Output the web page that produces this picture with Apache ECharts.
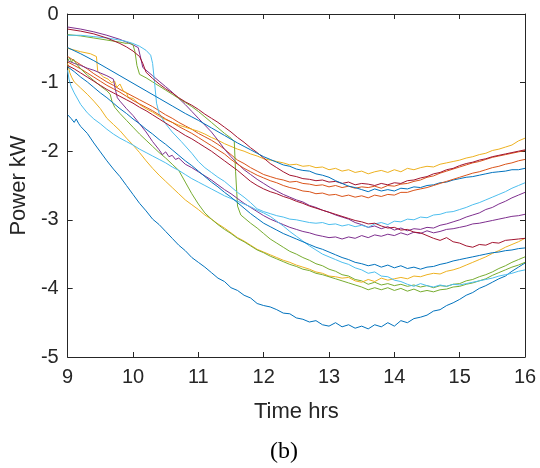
<!DOCTYPE html>
<html><head><meta charset="utf-8">
<script src="https://cdn.jsdelivr.net/npm/echarts@6/dist/echarts.min.js"></script>
<style>html,body{margin:0;padding:0;background:#fff}#c{width:540px;height:468px}</style>
</head><body><div id="c"></div>
<script>
const xTicks = [9,10,11,12,13,14,15,16];
const yTicks = [-5,-4,-3,-2,-1,0];
const xTitle = 'Time hrs';
const yTitle = 'Power kW';
const caption = '(b)';

const blueLow = [[9,-1.47],[9.05,-1.52],[9.1,-1.58],[9.13,-1.53],[9.17,-1.6],[9.2,-1.64],[9.3,-1.74],[9.4,-1.88],[9.5,-2.01],[9.6,-2.14],[9.7,-2.26],[9.8,-2.37],[9.9,-2.5],[10,-2.63],[10.1,-2.76],[10.2,-2.87],[10.3,-2.99],[10.4,-3.07],[10.5,-3.17],[10.6,-3.27],[10.7,-3.37],[10.8,-3.45],[10.9,-3.55],[11,-3.62],[11.1,-3.69],[11.2,-3.77],[11.3,-3.85],[11.4,-3.9],[11.5,-3.99],[11.6,-4.03],[11.7,-4.1],[11.8,-4.14],[11.9,-4.22],[12,-4.25],[12.1,-4.27],[12.2,-4.31],[12.3,-4.36],[12.4,-4.37],[12.5,-4.43],[12.6,-4.45],[12.7,-4.49],[12.8,-4.47],[12.9,-4.53],[13,-4.55],[13.1,-4.5],[13.2,-4.56],[13.3,-4.53],[13.4,-4.58],[13.5,-4.55],[13.6,-4.59],[13.7,-4.53],[13.8,-4.56],[13.9,-4.5],[14,-4.55],[14.1,-4.47],[14.2,-4.5],[14.3,-4.44],[14.4,-4.42],[14.5,-4.39],[14.6,-4.33],[14.7,-4.31],[14.8,-4.25],[14.9,-4.21],[15,-4.16],[15.1,-4.1],[15.2,-4.06],[15.3,-4],[15.4,-3.96],[15.5,-3.91],[15.6,-3.86],[15.7,-3.82],[15.8,-3.75],[15.9,-3.69],[16,-3.63]];
const redBand = [[9,-0.62],[9.1,-0.68],[9.2,-0.74],[9.3,-0.8],[9.4,-0.87],[9.5,-0.93],[9.6,-0.99],[9.7,-1.04],[9.8,-1.1],[9.9,-1.15],[10,-1.2],[10.1,-1.25],[10.2,-1.3],[10.3,-1.35],[10.4,-1.41],[10.5,-1.47],[10.6,-1.52],[10.7,-1.58],[10.8,-1.63],[10.9,-1.68],[11,-1.74],[11.1,-1.79],[11.2,-1.84],[11.3,-1.9],[11.4,-1.97],[11.5,-2.05],[11.6,-2.13],[11.7,-2.18],[11.8,-2.24],[11.9,-2.29],[12,-2.34],[12.1,-2.37],[12.2,-2.4],[12.3,-2.42],[12.4,-2.45],[12.5,-2.44],[12.6,-2.47],[12.7,-2.48],[12.8,-2.5],[12.9,-2.49],[13,-2.52],[13.1,-2.5],[13.2,-2.53],[13.3,-2.51],[13.4,-2.54],[13.5,-2.52],[13.6,-2.53],[13.7,-2.51],[13.8,-2.54],[13.9,-2.5],[14,-2.51],[14.1,-2.48],[14.2,-2.47],[14.3,-2.44],[14.4,-2.42],[14.5,-2.38],[14.6,-2.36],[14.7,-2.32],[14.8,-2.29],[14.9,-2.26],[15,-2.23],[15.1,-2.2],[15.2,-2.17],[15.3,-2.15],[15.4,-2.12],[15.5,-2.09],[15.6,-2.07],[15.7,-2.05],[15.8,-2.03],[15.9,-2.01],[16,-1.99]];
const yellowTop = [[9,-0.5],[9.2,-0.55],[9.35,-0.58],[9.44,-0.62],[9.46,-0.84],[9.55,-0.92],[9.62,-0.95],[9.67,-1],[9.72,-0.98],[9.75,-1.07],[9.8,-1.02],[9.85,-1.12],[9.9,-1.15],[9.93,-1.22],[10,-1.23],[10.1,-1.32],[10.2,-1.38],[10.3,-1.43],[10.4,-1.49],[10.5,-1.54],[10.6,-1.58],[10.7,-1.62],[10.8,-1.65],[10.9,-1.68],[11,-1.71],[11.1,-1.75],[11.2,-1.8],[11.3,-1.84],[11.4,-1.89],[11.5,-1.93],[11.6,-1.97],[11.7,-2],[11.8,-2.04],[11.9,-2.07],[12,-2.11],[12.1,-2.13],[12.2,-2.15],[12.3,-2.17],[12.4,-2.2],[12.5,-2.19],[12.6,-2.22],[12.7,-2.21],[12.8,-2.24],[12.9,-2.23],[13,-2.27],[13.1,-2.25],[13.2,-2.29],[13.3,-2.27],[13.4,-2.31],[13.5,-2.29],[13.6,-2.33],[13.7,-2.3],[13.8,-2.28],[13.9,-2.31],[14,-2.27],[14.1,-2.3],[14.2,-2.25],[14.3,-2.27],[14.4,-2.24],[14.5,-2.22],[14.6,-2.23],[14.7,-2.19],[14.8,-2.17],[14.9,-2.15],[15,-2.13],[15.1,-2.1],[15.2,-2.08],[15.3,-2.05],[15.4,-2.03],[15.5,-1.99],[15.6,-1.97],[15.7,-1.94],[15.8,-1.91],[15.9,-1.85],[16,-1.81]];
const purpleTop = [[9,-0.19],[9.2,-0.22],[9.4,-0.26],[9.6,-0.31],[9.8,-0.37],[9.9,-0.41],[10,-0.45],[10.08,-0.49],[10.12,-0.65],[10.15,-0.78],[10.3,-0.9],[10.4,-0.98],[10.5,-1.06],[10.6,-1.14],[10.7,-1.23],[10.8,-1.32],[10.9,-1.42],[11,-1.52],[11.1,-1.62],[11.2,-1.72],[11.3,-1.84],[11.4,-1.97],[11.5,-2.08],[11.6,-2.18],[11.7,-2.27],[11.8,-2.34],[11.9,-2.41],[12,-2.47],[12.1,-2.53],[12.2,-2.58],[12.3,-2.63],[12.4,-2.67],[12.5,-2.71],[12.6,-2.74],[12.7,-2.79],[12.8,-2.82],[12.9,-2.86],[13,-2.89],[13.1,-2.93],[13.2,-2.96],[13.3,-2.99],[13.4,-3.04],[13.5,-3.07],[13.6,-3.11],[13.7,-3.09],[13.8,-3.13],[13.9,-3.1],[14,-3.15],[14.1,-3.12],[14.2,-3.16],[14.3,-3.13],[14.4,-3.14],[14.5,-3.11],[14.6,-3.12],[14.7,-3.08],[14.8,-3.06],[14.9,-3.03],[15,-3],[15.1,-2.96],[15.2,-2.93],[15.3,-2.9],[15.4,-2.85],[15.5,-2.82],[15.6,-2.77],[15.7,-2.73],[15.8,-2.68],[15.9,-2.64],[16,-2.6]];
const greenStep = [[9,-0.3],[9.2,-0.32],[9.4,-0.35],[9.6,-0.38],[9.8,-0.41],[9.9,-0.43],[9.95,-0.42],[10,-0.45],[10.03,-0.55],[10.06,-0.75],[10.1,-0.88],[10.2,-0.93],[10.3,-0.99],[10.4,-1.05],[10.5,-1.11],[10.6,-1.17],[10.7,-1.23],[10.8,-1.29],[10.9,-1.35],[11,-1.42],[11.1,-1.5],[11.2,-1.58],[11.3,-1.66],[11.4,-1.74],[11.5,-1.81],[11.55,-1.86],[11.57,-2.3],[11.6,-2.8],[11.65,-2.93],[11.7,-2.97],[11.8,-3.05],[11.9,-3.12],[12,-3.2],[12.1,-3.28],[12.2,-3.34],[12.3,-3.4],[12.4,-3.46],[12.5,-3.5],[12.6,-3.55],[12.7,-3.59],[12.8,-3.64],[12.9,-3.67],[13,-3.72],[13.1,-3.75],[13.2,-3.8],[13.3,-3.82],[13.4,-3.87],[13.5,-3.89],[13.6,-3.94],[13.7,-3.91],[13.8,-3.95],[13.9,-3.93],[14,-3.96],[14.1,-3.94],[14.2,-3.97],[14.3,-3.95],[14.4,-3.98],[14.5,-3.96],[14.6,-3.99],[14.7,-3.96],[14.8,-3.97],[14.9,-3.94],[15,-3.93],[15.1,-3.89],[15.2,-3.87],[15.3,-3.83],[15.4,-3.8],[15.5,-3.76],[15.6,-3.71],[15.7,-3.67],[15.8,-3.62],[15.9,-3.58],[16,-3.54]];
const lightBlueStep = [[9,-0.31],[9.2,-0.31],[9.4,-0.33],[9.6,-0.35],[9.8,-0.38],[9.9,-0.4],[10,-0.43],[10.1,-0.47],[10.2,-0.53],[10.27,-0.6],[10.3,-0.72],[10.33,-1],[10.36,-1.3],[10.4,-1.45],[10.5,-1.6],[10.6,-1.72],[10.74,-1.86],[10.9,-2.03],[11,-2.15],[11.1,-2.24],[11.2,-2.31],[11.3,-2.38],[11.4,-2.44],[11.5,-2.52],[11.6,-2.6],[11.7,-2.67],[11.8,-2.75],[11.9,-2.84],[12,-2.88],[12.1,-2.91],[12.2,-2.94],[12.3,-2.96],[12.4,-2.99],[12.5,-3],[12.6,-3.02],[12.7,-3.04],[12.8,-3.05],[12.9,-3.04],[13,-3.07],[13.1,-3.06],[13.2,-3.09],[13.3,-3.07],[13.4,-3.1],[13.5,-3.08],[13.6,-3.11],[13.7,-3.06],[13.8,-3.04],[13.9,-3.07],[14,-3.02],[14.1,-3.03],[14.2,-2.99],[14.3,-3],[14.4,-2.96],[14.5,-2.97],[14.6,-2.93],[14.7,-2.92],[14.8,-2.89],[14.9,-2.88],[15,-2.85],[15.1,-2.82],[15.2,-2.78],[15.3,-2.75],[15.4,-2.71],[15.5,-2.67],[15.6,-2.63],[15.7,-2.59],[15.8,-2.54],[15.9,-2.5],[16,-2.46]];
const redTop = [[9,-0.22],[9.2,-0.25],[9.4,-0.29],[9.6,-0.35],[9.8,-0.43],[9.9,-0.48],[10,-0.54],[10.1,-0.62],[10.15,-0.72],[10.2,-0.85],[10.3,-0.94],[10.4,-1.02],[10.5,-1.09],[10.6,-1.15],[10.7,-1.22],[10.8,-1.28],[10.9,-1.33],[11,-1.39],[11.1,-1.46],[11.2,-1.52],[11.3,-1.58],[11.4,-1.65],[11.5,-1.72],[11.6,-1.8],[11.7,-1.87],[11.8,-1.95],[11.9,-2.02],[12,-2.1],[12.1,-2.18],[12.2,-2.24],[12.3,-2.3],[12.4,-2.35],[12.5,-2.37],[12.6,-2.4],[12.7,-2.41],[12.8,-2.43],[12.9,-2.42],[13,-2.45],[13.1,-2.44],[13.2,-2.47],[13.3,-2.45],[13.4,-2.49],[13.5,-2.47],[13.6,-2.48],[13.7,-2.5],[13.8,-2.47],[13.9,-2.49],[14,-2.46],[14.1,-2.47],[14.2,-2.43],[14.3,-2.42],[14.4,-2.39],[14.5,-2.37],[14.6,-2.33],[14.7,-2.31],[14.8,-2.27],[14.9,-2.25],[15,-2.21],[15.1,-2.18],[15.2,-2.16],[15.3,-2.13],[15.4,-2.11],[15.5,-2.08],[15.6,-2.06],[15.7,-2.04],[15.8,-2.02],[15.9,-2],[16,-1.98]];
const blueMid = [[9,-0.49],[9.2,-0.58],[9.4,-0.68],[9.6,-0.79],[9.8,-0.9],[10,-1.01],[10.2,-1.12],[10.4,-1.23],[10.6,-1.34],[10.8,-1.45],[10.9,-1.5],[11,-1.55],[11.2,-1.66],[11.4,-1.77],[11.6,-1.88],[11.7,-1.93],[11.8,-1.98],[11.9,-2.03],[12,-2.08],[12.1,-2.12],[12.2,-2.16],[12.3,-2.2],[12.4,-2.22],[12.5,-2.26],[12.6,-2.28],[12.7,-2.29],[12.8,-2.33],[12.9,-2.35],[13,-2.38],[13.1,-2.43],[13.2,-2.47],[13.3,-2.51],[13.4,-2.53],[13.5,-2.56],[13.6,-2.59],[13.7,-2.55],[13.8,-2.58],[13.9,-2.56],[14,-2.58],[14.1,-2.54],[14.2,-2.55],[14.3,-2.52],[14.4,-2.53],[14.5,-2.5],[14.6,-2.49],[14.7,-2.46],[14.8,-2.45],[14.9,-2.42],[15,-2.4],[15.1,-2.38],[15.2,-2.37],[15.3,-2.35],[15.4,-2.33],[15.5,-2.31],[15.6,-2.3],[15.7,-2.29],[15.8,-2.27],[15.9,-2.27],[16,-2.25]];
const orangeBand = [[9,-0.7],[9.1,-0.75],[9.2,-0.8],[9.3,-0.86],[9.4,-0.92],[9.5,-0.98],[9.6,-1.04],[9.7,-1.09],[9.8,-1.14],[9.9,-1.2],[10,-1.26],[10.1,-1.31],[10.2,-1.36],[10.3,-1.41],[10.4,-1.47],[10.5,-1.53],[10.6,-1.58],[10.7,-1.64],[10.8,-1.69],[10.9,-1.74],[11,-1.8],[11.1,-1.86],[11.2,-1.92],[11.3,-1.98],[11.4,-2.04],[11.5,-2.12],[11.6,-2.19],[11.7,-2.25],[11.8,-2.3],[11.9,-2.35],[12,-2.39],[12.1,-2.43],[12.2,-2.46],[12.3,-2.5],[12.4,-2.53],[12.5,-2.55],[12.6,-2.58],[12.7,-2.59],[12.8,-2.62],[12.9,-2.61],[13,-2.64],[13.1,-2.63],[13.2,-2.66],[13.3,-2.64],[13.4,-2.67],[13.5,-2.65],[13.6,-2.68],[13.7,-2.64],[13.8,-2.66],[13.9,-2.63],[14,-2.64],[14.1,-2.6],[14.2,-2.6],[14.3,-2.57],[14.4,-2.55],[14.5,-2.53],[14.6,-2.5],[14.7,-2.47],[14.8,-2.44],[14.9,-2.41],[15,-2.38],[15.1,-2.35],[15.2,-2.32],[15.3,-2.3],[15.4,-2.27],[15.5,-2.24],[15.6,-2.22],[15.7,-2.19],[15.8,-2.17],[15.9,-2.14],[16,-2.12]];
const yellowLow = [[9,-0.72],[9.03,-0.85],[9.06,-0.92],[9.1,-0.99],[9.2,-1.08],[9.3,-1.17],[9.4,-1.27],[9.5,-1.38],[9.6,-1.52],[9.7,-1.61],[9.8,-1.7],[9.9,-1.81],[10,-1.91],[10.1,-2.02],[10.2,-2.14],[10.3,-2.25],[10.4,-2.35],[10.5,-2.44],[10.6,-2.53],[10.7,-2.62],[10.8,-2.71],[10.9,-2.78],[11,-2.85],[11.1,-2.93],[11.2,-2.99],[11.3,-3.06],[11.4,-3.12],[11.5,-3.19],[11.6,-3.26],[11.7,-3.31],[11.8,-3.37],[11.9,-3.43],[12,-3.47],[12.1,-3.51],[12.2,-3.55],[12.3,-3.59],[12.4,-3.62],[12.5,-3.66],[12.6,-3.69],[12.7,-3.72],[12.8,-3.76],[12.9,-3.78],[13,-3.82],[13.1,-3.83],[13.2,-3.85],[13.3,-3.84],[13.4,-3.89],[13.5,-3.91],[13.6,-3.87],[13.7,-3.9],[13.8,-3.85],[13.9,-3.88],[14,-3.86],[14.1,-3.84],[14.2,-3.86],[14.3,-3.82],[14.4,-3.83],[14.5,-3.8],[14.6,-3.78],[14.7,-3.79],[14.8,-3.75],[14.9,-3.73],[15,-3.7],[15.1,-3.66],[15.2,-3.62],[15.3,-3.58],[15.4,-3.54],[15.5,-3.49],[15.6,-3.45],[15.7,-3.4],[15.8,-3.36],[15.9,-3.32],[16,-3.27]];
const purpleLow = [[9,-0.68],[9.1,-0.72],[9.2,-0.75],[9.3,-0.79],[9.4,-0.82],[9.5,-0.86],[9.6,-0.9],[9.7,-0.95],[9.73,-1.1],[9.76,-1.22],[9.8,-1.27],[9.9,-1.38],[10,-1.48],[10.1,-1.6],[10.2,-1.72],[10.3,-1.86],[10.4,-1.98],[10.45,-2.05],[10.5,-2.01],[10.55,-2.08],[10.6,-2.06],[10.65,-2.12],[10.7,-2.1],[10.8,-2.19],[10.9,-2.24],[11,-2.3],[11.1,-2.36],[11.2,-2.42],[11.3,-2.49],[11.4,-2.56],[11.5,-2.62],[11.6,-2.69],[11.7,-2.76],[11.8,-2.82],[11.9,-2.88],[12,-2.94],[12.1,-2.99],[12.2,-3.03],[12.3,-3.07],[12.4,-3.11],[12.5,-3.14],[12.6,-3.17],[12.7,-3.19],[12.8,-3.22],[12.9,-3.24],[13,-3.26],[13.1,-3.25],[13.2,-3.28],[13.3,-3.25],[13.4,-3.27],[13.5,-3.23],[13.6,-3.26],[13.7,-3.22],[13.8,-3.24],[13.9,-3.21],[14,-3.23],[14.1,-3.19],[14.2,-3.22],[14.3,-3.18],[14.4,-3.2],[14.5,-3.16],[14.6,-3.19],[14.7,-3.17],[14.8,-3.14],[14.9,-3.13],[15,-3.11],[15.1,-3.09],[15.2,-3.06],[15.3,-3.05],[15.4,-3.03],[15.5,-3.01],[15.6,-2.99],[15.7,-2.97],[15.8,-2.95],[15.9,-2.94],[16,-2.92]];
const greenLow = [[9,-0.69],[9.03,-0.64],[9.06,-0.7],[9.09,-0.66],[9.12,-0.71],[9.2,-0.8],[9.3,-0.89],[9.4,-0.97],[9.5,-1.05],[9.6,-1.12],[9.65,-1.17],[9.68,-1.28],[9.72,-1.36],[9.8,-1.45],[9.9,-1.55],[10,-1.65],[10.1,-1.75],[10.2,-1.84],[10.3,-1.93],[10.4,-2.02],[10.5,-2.1],[10.6,-2.19],[10.7,-2.28],[10.8,-2.45],[10.9,-2.62],[11,-2.77],[11.1,-2.9],[11.2,-2.99],[11.3,-3.07],[11.4,-3.14],[11.5,-3.2],[11.6,-3.27],[11.7,-3.32],[11.8,-3.38],[11.9,-3.44],[12,-3.48],[12.1,-3.53],[12.2,-3.57],[12.3,-3.61],[12.4,-3.65],[12.5,-3.68],[12.6,-3.72],[12.7,-3.74],[12.8,-3.78],[12.9,-3.8],[13,-3.83],[13.1,-3.86],[13.2,-3.89],[13.3,-3.92],[13.4,-3.95],[13.5,-3.98],[13.6,-4.02],[13.7,-3.99],[13.8,-4.02],[13.9,-3.99],[14,-4.03],[14.1,-4],[14.2,-4.04],[14.3,-4.01],[14.4,-4.05],[14.5,-4.03],[14.6,-4.05],[14.7,-4.02],[14.8,-4.01],[14.9,-3.98],[15,-3.97],[15.1,-3.94],[15.2,-3.92],[15.3,-3.89],[15.4,-3.86],[15.5,-3.81],[15.6,-3.77],[15.7,-3.73],[15.8,-3.69],[15.9,-3.66],[16,-3.62]];
const lightBlueLow = [[9,-0.82],[9.02,-0.95],[9.05,-1.05],[9.1,-1.15],[9.2,-1.32],[9.3,-1.44],[9.4,-1.53],[9.5,-1.6],[9.6,-1.68],[9.7,-1.75],[9.8,-1.81],[9.9,-1.86],[10,-1.91],[10.1,-1.97],[10.2,-2.02],[10.3,-2.07],[10.4,-2.12],[10.5,-2.17],[10.6,-2.23],[10.7,-2.28],[10.8,-2.34],[10.9,-2.4],[11,-2.45],[11.1,-2.5],[11.2,-2.55],[11.3,-2.6],[11.4,-2.65],[11.5,-2.69],[11.6,-2.73],[11.7,-2.77],[11.8,-2.81],[11.9,-2.86],[12,-2.9],[12.1,-2.95],[12.2,-3.02],[12.3,-3.09],[12.4,-3.17],[12.5,-3.24],[12.6,-3.31],[12.7,-3.38],[12.8,-3.44],[12.9,-3.5],[13,-3.54],[13.1,-3.58],[13.2,-3.62],[13.3,-3.65],[13.4,-3.7],[13.5,-3.73],[13.6,-3.78],[13.7,-3.76],[13.8,-3.82],[13.9,-3.83],[14,-3.88],[14.1,-3.9],[14.2,-3.94],[14.3,-3.97],[14.4,-3.93],[14.5,-3.96],[14.6,-3.98],[14.7,-3.95],[14.8,-3.97],[14.9,-3.94],[15,-3.95],[15.1,-3.93],[15.2,-3.91],[15.3,-3.89],[15.4,-3.87],[15.5,-3.85],[15.6,-3.82],[15.7,-3.8],[15.8,-3.78],[15.9,-3.75],[16,-3.73]];
const darkRedBand = [[9,-0.75],[9.1,-0.8],[9.2,-0.86],[9.3,-0.92],[9.4,-0.98],[9.5,-1.04],[9.6,-1.1],[9.7,-1.15],[9.8,-1.2],[9.9,-1.25],[10,-1.3],[10.1,-1.36],[10.2,-1.41],[10.3,-1.47],[10.4,-1.53],[10.5,-1.59],[10.6,-1.65],[10.7,-1.71],[10.8,-1.77],[10.9,-1.82],[11,-1.88],[11.1,-1.94],[11.2,-2],[11.3,-2.07],[11.4,-2.14],[11.5,-2.21],[11.6,-2.28],[11.7,-2.36],[11.8,-2.44],[11.9,-2.5],[12,-2.55],[12.1,-2.59],[12.2,-2.62],[12.3,-2.66],[12.4,-2.69],[12.5,-2.73],[12.6,-2.76],[12.7,-2.8],[12.8,-2.83],[12.9,-2.86],[13,-2.89],[13.1,-2.92],[13.2,-2.95],[13.3,-2.98],[13.4,-3.01],[13.5,-3.03],[13.6,-3.06],[13.7,-3.05],[13.8,-3.09],[13.9,-3.12],[14,-3.11],[14.1,-3.15],[14.2,-3.14],[14.3,-3.18],[14.4,-3.19],[14.5,-3.23],[14.6,-3.27],[14.7,-3.3],[14.8,-3.26],[14.9,-3.32],[15,-3.34],[15.1,-3.38],[15.2,-3.4],[15.3,-3.36],[15.4,-3.37],[15.5,-3.33],[15.6,-3.34],[15.7,-3.3],[15.8,-3.29],[15.9,-3.28],[16,-3.27]];
const blueBand = [[9,-0.77],[9.1,-0.84],[9.2,-0.92],[9.3,-0.99],[9.4,-1.07],[9.5,-1.15],[9.6,-1.22],[9.7,-1.3],[9.8,-1.38],[9.9,-1.45],[10,-1.53],[10.1,-1.6],[10.2,-1.68],[10.3,-1.75],[10.4,-1.83],[10.5,-1.9],[10.6,-1.98],[10.7,-2.06],[10.8,-2.14],[10.9,-2.21],[11,-2.29],[11.1,-2.37],[11.2,-2.45],[11.3,-2.52],[11.4,-2.6],[11.5,-2.67],[11.6,-2.75],[11.7,-2.83],[11.8,-2.91],[11.9,-2.98],[12,-3.05],[12.1,-3.1],[12.2,-3.15],[12.3,-3.2],[12.4,-3.24],[12.5,-3.28],[12.6,-3.32],[12.7,-3.36],[12.8,-3.4],[12.9,-3.43],[13,-3.47],[13.1,-3.51],[13.2,-3.55],[13.3,-3.58],[13.4,-3.62],[13.5,-3.64],[13.6,-3.67],[13.7,-3.65],[13.8,-3.69],[13.9,-3.66],[14,-3.7],[14.1,-3.67],[14.2,-3.71],[14.3,-3.69],[14.4,-3.72],[14.5,-3.69],[14.6,-3.68],[14.7,-3.65],[14.8,-3.63],[14.9,-3.6],[15,-3.58],[15.1,-3.56],[15.2,-3.54],[15.3,-3.52],[15.4,-3.5],[15.5,-3.48],[15.6,-3.47],[15.7,-3.45],[15.8,-3.44],[15.9,-3.42],[16,-3.41]];

const seriesList = [
  ['blueLow', blueLow, '#0072BD'],
  ['redBand', redBand, '#D95319'],
  ['yellowTop', yellowTop, '#EDB120'],
  ['purpleTop', purpleTop, '#7E2F8E'],
  ['greenStep', greenStep, '#77AC30'],
  ['lightBlueStep', lightBlueStep, '#4DBEEE'],
  ['redTop', redTop, '#A2142F'],
  ['blueMid', blueMid, '#0072BD'],
  ['orangeBand', orangeBand, '#D95319'],
  ['yellowLow', yellowLow, '#EDB120'],
  ['purpleLow', purpleLow, '#7E2F8E'],
  ['greenLow', greenLow, '#77AC30'],
  ['lightBlueLow', lightBlueLow, '#4DBEEE'],
  ['darkRedBand', darkRedBand, '#A2142F'],
  ['blueBand', blueBand, '#0072BD']
];

const axisColor = '#262626';
const font = 'Liberation Sans, Arial, sans-serif';
const chart = echarts.init(document.getElementById('c'), null, {renderer: 'canvas'});
const baseX = {type: 'value', min: xTicks[0], max: xTicks[xTicks.length-1], interval: 1,
  axisLine: {show: true, onZero: false, lineStyle: {color: axisColor, width: 1}},
  axisTick: {show: true, inside: true, length: 5, lineStyle: {color: axisColor}},
  splitLine: {show: false}};
const baseY = {type: 'value', min: yTicks[0], max: yTicks[yTicks.length-1], interval: 1,
  axisLine: {show: true, onZero: false, lineStyle: {color: axisColor, width: 1}},
  axisTick: {show: true, inside: true, length: 5, lineStyle: {color: axisColor}},
  splitLine: {show: false}};
chart.setOption({
  animation: false,
  backgroundColor: '#fff',
  grid: {left: 66, top: 14, right: 15, bottom: 111, containLabel: false},
  xAxis: [
    Object.assign({}, baseX, {position: 'bottom', name: xTitle, nameLocation: 'middle', nameGap: 44,
      nameTextStyle: {fontFamily: font, fontSize: 22, color: axisColor},
      axisLabel: {show: true, margin: 10, fontFamily: font, fontSize: 20, color: axisColor}}),
    Object.assign({}, baseX, {position: 'top', axisLabel: {show: false}})
  ],
  yAxis: [
    Object.assign({}, baseY, {position: 'left', name: yTitle, nameLocation: 'middle', nameGap: 35,
      nameTextStyle: {fontFamily: font, fontSize: 22, color: axisColor},
      axisLabel: {show: true, margin: 9, fontFamily: font, fontSize: 20, color: axisColor}}),
    Object.assign({}, baseY, {position: 'right', axisLabel: {show: false}})
  ],
  graphic: [{type: 'text', left: 270, top: 440, style: {text: caption, fontFamily: 'Liberation Serif, Times New Roman, serif', fontSize: 24, fill: '#000'}}],
  series: seriesList.map(s => ({name: s[0], type: 'line', data: s[1], xAxisIndex: 0, yAxisIndex: 0,
    showSymbol: false, symbol: 'none', lineStyle: {color: s[2], width: 1}, itemStyle: {color: s[2]}}))
});
</script></body></html>
